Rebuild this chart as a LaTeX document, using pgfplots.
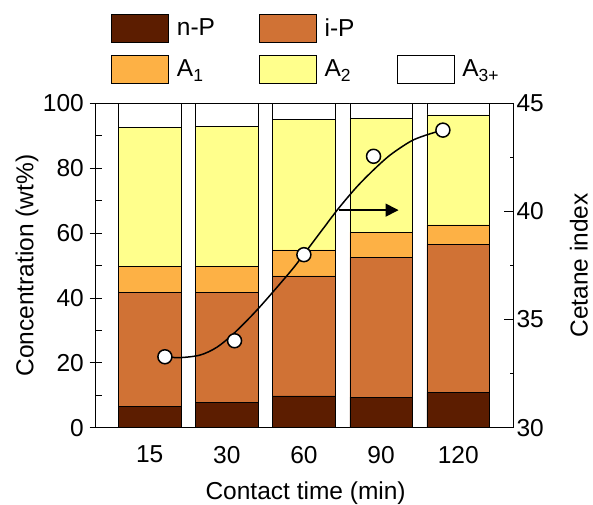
\documentclass[border=0pt]{standalone}
\usepackage{fontspec}
\setmainfont{Liberation Sans}
\usepackage{pgfplots}
\usepackage{pgfplotstable}
\pgfplotsset{compat=1.18}
\usetikzlibrary{arrows.meta}
\definecolor{cNP}{RGB}{92,29,0}
\definecolor{cIP}{RGB}{208,114,53}
\definecolor{cAa}{RGB}{253,177,69}
\definecolor{cAb}{RGB}{255,255,140}

\pgfplotstableread{
x nP iP A1 A2 A3
0 6.5 35.1 8.0 43.0 7.4
1 7.8 33.9 8.0 43.3 7.0
2 9.8 37.0 8.0 40.1 5.1
3 9.4 43.1 7.7 35.2 4.6
4 10.9 45.6 6.0 33.9 3.6
}\bars

\pgfplotstableread{
x y
0.197 33.28
1.100 34.02
1.999 38.00
2.902 42.55
3.801 43.76
}\cetane

\pgfplotstableread{
x y
0.197 33.28
0.395 33.24
0.655 33.36
0.871 33.72
1.100 34.39
1.411 35.52
1.822 37.21
1.999 38.02
2.254 39.23
2.448 40.14
2.686 41.14
2.902 41.92
3.118 42.61
3.377 43.23
3.550 43.49
3.801 43.77
}\fitcurve

\newcommand{\sub}[1]{\raisebox{-4.5bp}{\fontsize{17.5bp}{18bp}\selectfont #1}}

\begin{document}
\begin{tikzpicture}[font=\fontsize{24.5bp}{29bp}\selectfont]
\pgfplotsset{
  base/.style={
    scale only axis, width=417.3bp, height=324.4bp,
    xmin=-0.7, xmax=4.71,
    /pgf/number format/assume math mode=true,
    tick label style={font=\fontsize{24.5bp}{29bp}\selectfont},
    label style={font=\fontsize{24.5bp}{29bp}\selectfont},
    axis line style={line width=0.8bp, black},
    tick style={line width=0.8bp, black},
  }
}
\begin{axis}[
  base,
  ymin=0, ymax=100,
  ybar stacked, bar width=0.81,
  xtick={0,1,2,3,4}, xticklabels={15,30,60,90,120},
  xtick style={draw=none},
  xticklabel style={yshift=-8.7bp},
  ytick={0,20,40,60,80,100}, minor ytick={10,30,50,70,90},
  yticklabel style={xshift=-2.4bp},
  ytick pos=left, xtick pos=bottom,
  tick align=center, major tick length=12bp, minor tick length=6bp,
  minor tick style={xshift=3bp},
  xlabel={Contact time (min)},
  ylabel={Concentration (wt\%)},
  every axis x label/.style={at={(axis description cs:0.503,-0.2207)}, anchor=base},
  every axis y label/.style={at={(axis description cs:-0.1495,0.5)}, rotate=90, anchor=base},
  legend columns=3,
  legend style={draw=none, fill=none, inner sep=0pt, at={(axis description cs:0.0367,1.2753)}, anchor=north west, column sep=0pt, row sep=12.3bp, nodes={inner sep=0pt}},
  legend cell align=left,
  legend image code/.code={\draw[#1, line width=0.7bp] (0bp,-14.5bp) rectangle (57bp,13.5bp); \path (65bp,0bp);},
]
\addplot[fill=cNP, draw=black, line width=0.7bp] table[x=x, y=nP] {\bars};
\addlegendentry{\makebox[82bp][l]{n-P}}
\addplot[fill=cIP, draw=black, line width=0.7bp] table[x=x, y=iP] {\bars};
\addlegendentry{\makebox[72bp][l]{i-P}}
\addlegendimage{empty legend}
\addlegendentry{}
\addplot[fill=cAa, draw=black, line width=0.7bp] table[x=x, y=A1] {\bars};
\addlegendentry{\makebox[82bp][l]{A\sub{1}}}
\addplot[fill=cAb, draw=black, line width=0.7bp] table[x=x, y=A2] {\bars};
\addlegendentry{\makebox[72bp][l]{A\sub{2}}}
\addplot[fill=white, draw=black, line width=0.7bp] table[x=x, y=A3] {\bars};
\addlegendentry{A\sub{3+}}
\end{axis}
\begin{axis}[
  base,
  ymin=30, ymax=45,
  axis x line=none, axis y line*=right,
  ytick={30,35,40,45}, minor ytick={32.5,37.5,42.5},
  tick align=inside, major tick length=9bp, minor tick length=3.5bp,
  ylabel={Cetane index},
  every axis y label/.style={at={(axis description cs:1.179,0.5)}, rotate=90, anchor=base},
]
\addplot[smooth, black, line width=1.5bp] table[x=x, y=y] {\fitcurve};
\addplot[only marks, mark=*, mark size=7bp, mark options={fill=white, draw=black, line width=1.5bp}] table[x=x, y=y] {\cetane};
\draw[line width=1.5bp, -{Triangle[length=13bp,width=13bp]}] (axis cs:2.45,40.06) -- (axis cs:3.226,40.06);
\end{axis}
\pgfresetboundingbox
\path[use as bounding box] (-95.7bp,-77.3bp) rectangle (497.3bp,427.7bp);
\end{tikzpicture}
\end{document}
